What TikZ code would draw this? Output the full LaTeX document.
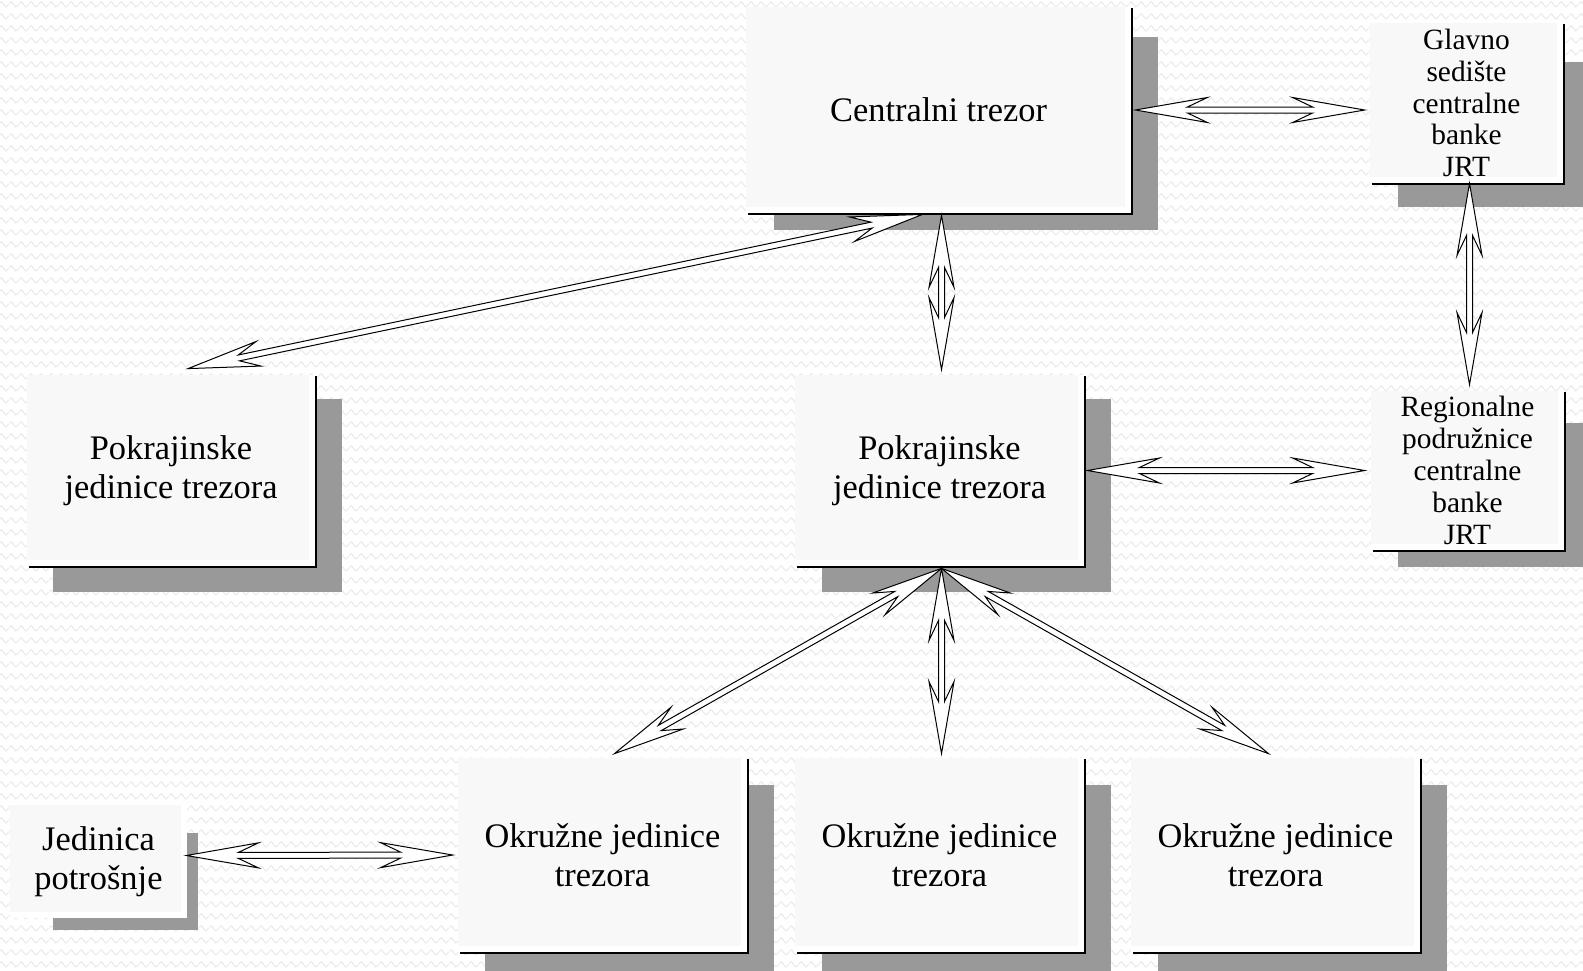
\documentclass[tikz,border=0pt]{standalone}
\usepackage{fontspec}
\setmainfont{Liberation Serif}
\usetikzlibrary{calc,patterns.meta}
\definecolor{shadowgray}{HTML}{999999}
\definecolor{panelfill}{HTML}{F8F8F8}
\definecolor{wavegray}{HTML}{EBEBEB}

% faint wavy background texture
\tikzdeclarepattern{
  name=waves,
  type=uncolored,
  bottom left={(0pt,0pt)},
  top right={(5pt,5.835pt)},
  tile size={(5pt,5.835pt)},
  code={
    \draw[line width=0.6pt] (-0.2pt,2.9pt) .. controls (1.25pt,4.6pt) and (1.25pt,4.6pt)
      .. (2.5pt,2.9pt) .. controls (3.75pt,1.2pt) and (3.75pt,1.2pt) .. (5.2pt,2.9pt);
  }
}

% arrow geometry
\def\headlen{36pt}
\def\headhalf{6.25pt}
\def\notchlen{26pt}
\def\shafthalf{1.5pt}

% drop shadow of a panel
\newcommand\panelshadow[4]{\fill[shadowgray] (#1,#2) rectangle (#3,#4);}
% thin dark rim on the right and bottom of a panel
\newcommand\panelrim[4]{\fill[black] (#1+1.5,#2+1) rectangle (#3+1.5,#4+1.5);}
% panel: name, x1, y1, x2, y2, text style, text
\newcommand\panel[7]{%
  \fill[white] (#2,#3) rectangle (#4,#5);
  \fill[panelfill] (#2,#3) rectangle (#4-6,#5-6);
  \node[#6, inner sep=0pt, align=center,
        minimum width={(#4-#2)*0.5pt}, minimum height={(#5-#3)*0.5pt}]
        (#1) at ({(#2+#4)/2},{(#3+#5)/2}) {#7};
}
% hollow two-headed arrow with a double-line shaft
\newcommand\dblarrow[2]{%
  \coordinate (da) at #1;
  \coordinate (db) at #2;
  \coordinate (ha) at ($(da)!\headlen!(db)$);
  \coordinate (na) at ($(da)!\notchlen!(db)$);
  \coordinate (hb) at ($(db)!\headlen!(da)$);
  \coordinate (nb) at ($(db)!\notchlen!(da)$);
  \coordinate (a1) at ($(ha)!\headhalf!90:(db)$);
  \coordinate (a2) at ($(na)!\shafthalf!90:(db)$);
  \coordinate (a3) at ($(ha)!\headhalf!-90:(db)$);
  \coordinate (a4) at ($(na)!\shafthalf!-90:(db)$);
  \coordinate (b1) at ($(hb)!\headhalf!-90:(da)$);
  \coordinate (b2) at ($(nb)!\shafthalf!-90:(da)$);
  \coordinate (b3) at ($(hb)!\headhalf!90:(da)$);
  \coordinate (b4) at ($(nb)!\shafthalf!90:(da)$);
  \filldraw[arrowline] (da) -- (a1) -- (a2) -- (b2) -- (b1) -- (db)
    -- (b3) -- (b4) -- (a4) -- (a3) -- cycle;
}

\begin{document}
\begin{tikzpicture}[x=0.5pt,y=-0.5pt,
  bigtext/.style={font=\fontsize{17.2}{19.3}\selectfont},
  smalltext/.style={font=\fontsize{14.7}{15.9}\selectfont},
  arrowline/.style={draw=black, fill=white, line width=0.5pt, line join=miter}]
\useasboundingbox (0,0) rectangle (1583,970);
\begin{scope}
\clip (0,0) rectangle (1583,970);
% textured background
\fill[white] (0,0) rectangle (1583,970);
\fill[pattern=waves, pattern color=wavegray] (0,0) rectangle (1583,970);

% shadows
\panelshadow{774}{37}{1158}{230}
\panelshadow{1398}{62}{1600}{207}
\panelshadow{53}{399}{342}{592}
\panelshadow{822}{399}{1111}{592}
\panelshadow{1398}{423}{1600}{567}
\panelshadow{53}{833}{198}{930}
\panelshadow{485}{785}{774}{985}
\panelshadow{822}{785}{1111}{985}
\panelshadow{1158}{785}{1447}{985}

% rims
\panelrim{746}{7}{1131}{213}
\panelrim{1370}{23}{1563}{183}
\panelrim{27}{375}{315}{566}
\panelrim{795}{375}{1084}{566}
\panelrim{1371}{391}{1564}{550}
\panelrim{458}{758}{747}{952}
\panelrim{795}{758}{1084}{952}
\panelrim{1131}{758}{1420}{952}

% panels
\panel{cen}{746}{7}{1131}{213}{bigtext}{Centralni trezor}
\panel{gl}{1370}{23}{1563}{183}{smalltext}{Glavno\\sedište\\centralne\\banke\\JRT}
\panel{pl}{27}{375}{315}{566}{bigtext}{Pokrajinske\\jedinice trezora}
\panel{pc}{795}{375}{1084}{566}{bigtext}{Pokrajinske\\jedinice trezora}
\panel{re}{1371}{391}{1564}{550}{smalltext}{Regionalne\\podružnice\\centralne\\banke\\JRT}
\panel{jed}{10}{805}{187}{918}{bigtext}{Jedinica\\potrošnje}
\panel{ok1}{458}{758}{747}{952}{bigtext}{Okružne jedinice\\trezora}
\panel{ok2}{795}{758}{1084}{952}{bigtext}{Okružne jedinice\\trezora}
\panel{ok3}{1131}{758}{1420}{952}{bigtext}{Okružne jedinice\\trezora}

% connectors
\dblarrow{($(cen.east)+(4,0)$)}{($(gl.west)+(-5,7)$)}
\dblarrow{($(cen.south)+(-16,1)$)}{($(pl.north)+(17,-6)$)}
\dblarrow{($(cen.south)+(3,2)$)}{($(pc.north)+(2,-5)$)}
\dblarrow{($(gl.south)+(3,0)$)}{($(re.north)+(2,-6)$)}
\dblarrow{($(pc.east)+(3,0)$)}{($(re.west)+(-6,0)$)}
\dblarrow{($(pc.south)+(2,2)$)}{($(ok1.north)+(12,-4)$)}
\dblarrow{($(pc.south)+(2,2)$)}{($(ok2.north)+(2,-4)$)}
\dblarrow{($(pc.south)+(2,2)$)}{($(ok3.north)+(-7,-4)$)}
\dblarrow{($(jed.east)+(-1,-6)$)}{($(ok1.west)+(-5,0)$)}
\end{scope}
\end{tikzpicture}
\end{document}
